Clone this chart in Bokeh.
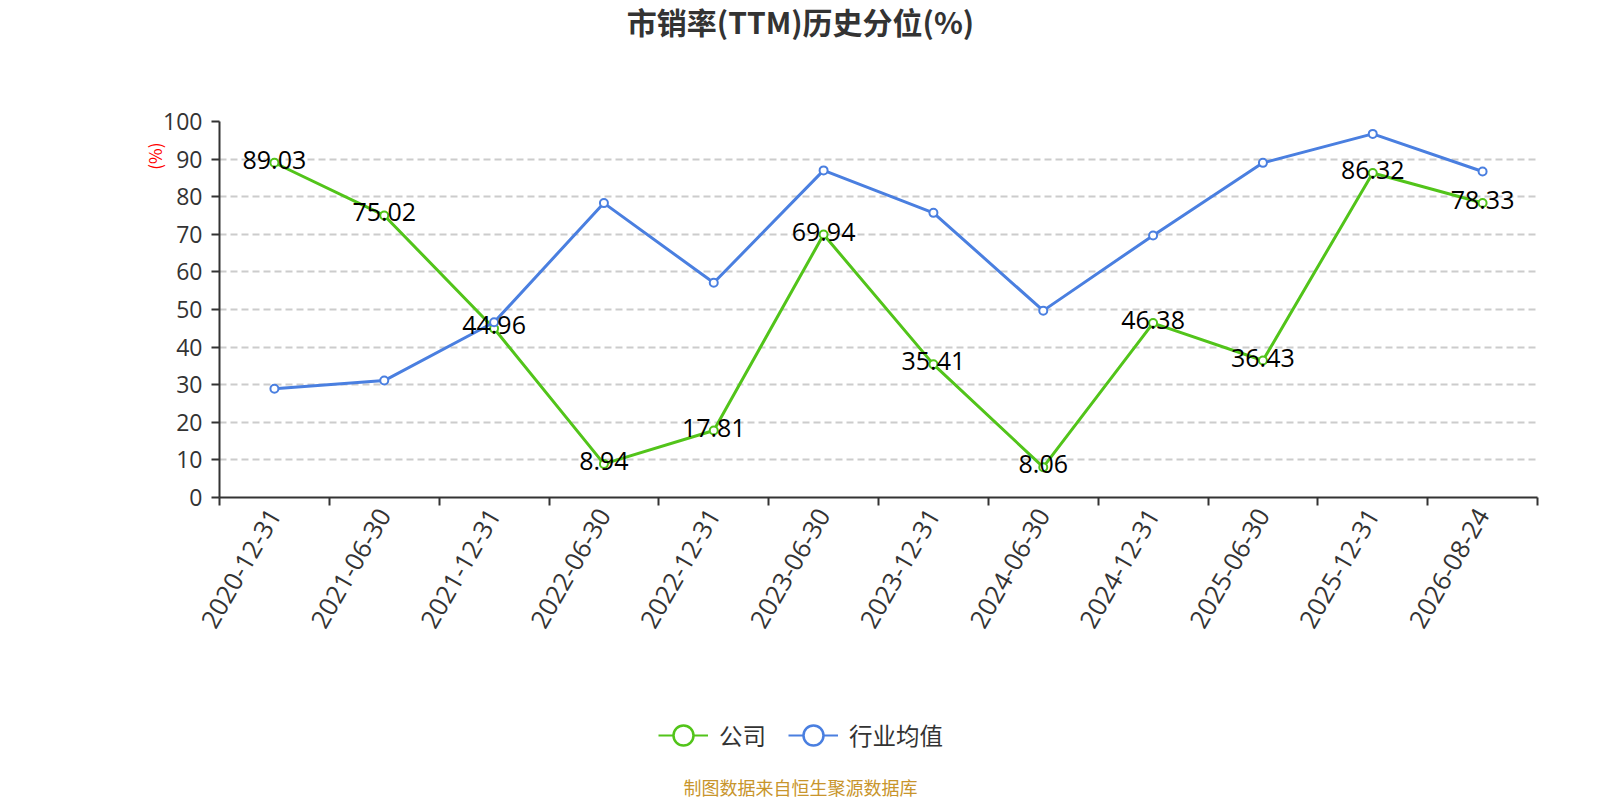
from math import pi
from bokeh.plotting import figure
from bokeh.layouts import column
from bokeh.core.properties import value
from bokeh.models import (ColumnDataSource, FixedTicker, CustomJSTickFormatter, Label,
                          LabelSet, Legend, LegendItem, Range1d, Title)
from bokeh.embed import file_html
from bokeh.resources import INLINE

# ---------------- data ----------------
dates = ["2020-12-31", "2021-06-30", "2021-12-31", "2022-06-30", "2022-12-31", "2023-06-30",
         "2023-12-31", "2024-06-30", "2024-12-31", "2025-06-30", "2025-12-31", "2026-08-24"]
company = [89.03, 75.02, 44.96, 8.94, 17.81, 69.94, 35.41, 8.06, 46.38, 36.43, 86.32, 78.33]
industry = [28.9, 31.1, 46.6, 78.3, 57.1, 87.0, 75.7, 49.7, 69.7, 89.0, 96.7, 86.7]
y_ticks = [0, 10, 20, 30, 40, 50, 60, 70, 80, 90, 100]
series_names = ["公司", "行业均值"]
title_text = "市销率(TTM)历史分位(%)"
unit_text = "(%)"
source_text = "制图数据来自恒生聚源数据库"

GREEN = "#52c41a"
BLUE = "#4a7fe0"
TXT = "#333333"
NUM_FONT = "Open Sans"
CJK_FONT = "Noto Sans CJK SC"

W = 1584
LEFT = 219           # plot frame left edge (page px)
RIGHT = 1537         # plot frame right edge (page px)
TOP_H = 80
MAIN_H = 577
BOT_H = 141

n = len(dates)
xs = [i + 0.5 for i in range(n)]
src = ColumnDataSource(dict(x=xs, company=company, industry=industry,
                            label=[f"{v:.2f}" for v in company]))


def strip(height):
    f = figure(width=W, height=height, output_backend="svg", toolbar_location=None,
               x_range=Range1d(LEFT, RIGHT), y_range=Range1d(0, height),
               x_axis_location=None, y_axis_location=None,
               min_border=0, min_border_left=LEFT, min_border_right=W - RIGHT,
               min_border_top=0, min_border_bottom=0)
    f.outline_line_color = None
    f.xgrid.visible = False
    f.ygrid.visible = False
    return f


# ---------------- title strip ----------------
p_top = strip(TOP_H)
p_top.add_layout(Label(x=800, y=TOP_H - 20, text=title_text, text_align="center",
                       text_baseline="middle", text_font=CJK_FONT, text_font_size="30px",
                       text_font_style="bold", text_color=TXT))

# ---------------- main chart ----------------
p = figure(width=W, height=MAIN_H, output_backend="svg", toolbar_location=None,
           x_range=Range1d(0, n), y_range=Range1d(0, 100),
           min_border_left=LEFT, min_border_right=W - RIGHT, min_border_top=41,
           min_border_bottom=MAIN_H - 41 - 376)
p.outline_line_color = None
p.xgrid.visible = False
p.ygrid.grid_line_color = "#cccccc"
p.ygrid.grid_line_dash = "7 4"
p.ygrid.grid_line_width = 1.8

ya = p.yaxis[0]
ya.ticker = FixedTicker(ticks=y_ticks, minor_ticks=[])
ya.axis_line_color = TXT
ya.axis_line_width = 2
ya.major_tick_line_color = TXT
ya.major_tick_line_width = 2
ya.major_tick_out = 8
ya.major_tick_in = 0
ya.minor_tick_line_color = None
ya.major_label_text_font = NUM_FONT
ya.major_label_text_font_size = "23px"
ya.major_label_text_color = TXT
ya.major_label_standoff = 9

xa = p.xaxis[0]
xa.ticker = FixedTicker(ticks=xs, minor_ticks=[float(i) for i in range(n + 1)])
xa.formatter = CustomJSTickFormatter(args=dict(labels=dates),
                                     code="return labels[Math.floor(tick)] || '';")
xa.axis_line_color = TXT
xa.axis_line_width = 2
xa.major_tick_line_color = None
xa.major_tick_out = 8
xa.major_tick_in = 0
xa.minor_tick_line_color = TXT
xa.minor_tick_line_width = 2
xa.minor_tick_out = 8
xa.minor_tick_in = 0
xa.major_label_orientation = pi / 3
xa.major_label_text_font = NUM_FONT
xa.major_label_text_font_size = "25.5px"
xa.major_label_text_color = TXT
xa.major_label_standoff = 5

unit = Title(text=unit_text, align="right", offset=21, text_color="red",
             text_font=CJK_FONT, text_font_size="17px", text_font_style="normal",
             standoff=-12)
p.add_layout(unit, "left")

p.line("x", "company", source=src, line_color=GREEN, line_width=3)
p.scatter("x", "company", source=src, size=8, fill_color="white",
          line_color=GREEN, line_width=2)
p.line("x", "industry", source=src, line_color=BLUE, line_width=3)
p.scatter("x", "industry", source=src, size=8, fill_color="white",
          line_color=BLUE, line_width=2)

p.add_layout(LabelSet(x="x", y="company", text="label", source=src, text_align="center",
                      text_baseline="middle", text_font=value(NUM_FONT),
                      text_font_size=value("25px"), text_color="black", y_offset=3))

# ---------------- legend + source strip ----------------
p_bot = strip(BOT_H)
p_bot.extra_x_ranges = {"off": Range1d(1000, 1001)}
g1 = p_bot.line("x", "company", source=src, line_color=GREEN, line_width=2, x_range_name="off")
g2 = p_bot.scatter("x", "company", source=src, size=20, fill_color="white",
                   line_color=GREEN, line_width=2.5, x_range_name="off")
b1 = p_bot.line("x", "industry", source=src, line_color=BLUE, line_width=2, x_range_name="off")
b2 = p_bot.scatter("x", "industry", source=src, size=20, fill_color="white",
                   line_color=BLUE, line_width=2.5, x_range_name="off")
legend = Legend(items=[LegendItem(label=series_names[0], renderers=[g1, g2]),
                       LegendItem(label=series_names[1], renderers=[b1, b2])],
                location=(658 - LEFT, BOT_H - 80 - 28 + 2), orientation="horizontal",
                glyph_width=50, glyph_height=56, label_text_font=CJK_FONT,
                label_text_font_size="23.5px", label_text_color=TXT,
                label_standoff=11, spacing=22, padding=0, margin=0,
                border_line_color=None, background_fill_alpha=0)
p_bot.add_layout(legend)
p_bot.add_layout(Label(x=800, y=12, text=source_text, text_align="center",
                       text_baseline="middle", text_font=CJK_FONT, text_font_size="18px",
                       text_color="#c8952c"))

layout = column(p_top, p, p_bot, spacing=0)
open("out.html", "w").write(file_html(layout, INLINE))
